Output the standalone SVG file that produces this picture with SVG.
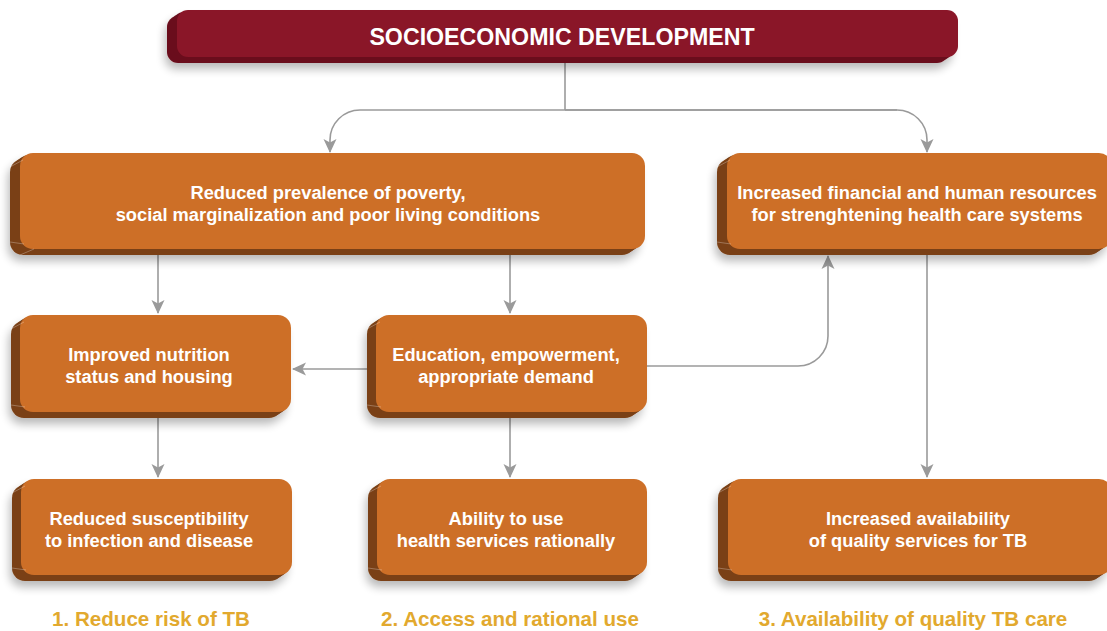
<svg xmlns="http://www.w3.org/2000/svg" width="1107" height="631" viewBox="0 0 1107 631">
<style>
.front{fill:#CD6F27}
.depth{fill:#7A4016}
.tfront{fill:#8A1628}
.tdepth{fill:#6A0F1D}
.lbl{font-family:"Liberation Sans",Arial,sans-serif;font-weight:bold;fill:#FFFFFF;font-size:18.3px;text-anchor:middle}
.title{font-family:"Liberation Sans",Arial,sans-serif;font-weight:bold;fill:#FFFFFF;font-size:23.2px;text-anchor:middle}
.cap{font-family:"Liberation Sans",Arial,sans-serif;font-weight:bold;fill:#E2A92E;font-size:20.6px;text-anchor:middle}
.conn{fill:none;stroke:#9A9A9A;stroke-width:1.6}
.bevel{fill:none;stroke:#FFFFFF;stroke-opacity:0.35;stroke-width:0.8}
</style>
<defs>
<filter id="sh" x="-10%" y="-30%" width="120%" height="170%">
<feGaussianBlur in="SourceAlpha" stdDeviation="5"/>
<feOffset dx="-2" dy="6" result="b"/>
<feComponentTransfer><feFuncA type="linear" slope="0.28"/></feComponentTransfer>
<feMerge><feMergeNode/><feMergeNode in="SourceGraphic"/></feMerge>
</filter>
<marker id="ah" viewBox="0 0 14 14" refX="13" refY="7" markerWidth="14" markerHeight="14" markerUnits="userSpaceOnUse" orient="auto">
<path d="M0,0.5 L14,7 L0,13.5 L3.5,7 z" fill="#9A9A9A"/>
</marker>
</defs>
<rect width="1107" height="631" fill="#FFFFFF"/>

<g id="connectors">
<path class="conn" d="M565,63 V110"/>
<path class="conn" d="M897,110 H360 A30,30 0 0 0 330,140 V152" marker-end="url(#ah)"/>
<path class="conn" d="M565,110 H897 A30,30 0 0 1 927,140 V152" marker-end="url(#ah)"/>
<path class="conn" d="M158,255 V313" marker-end="url(#ah)"/>
<path class="conn" d="M510,255 V313" marker-end="url(#ah)"/>
<path class="conn" d="M158,418 V477" marker-end="url(#ah)"/>
<path class="conn" d="M510,418 V477" marker-end="url(#ah)"/>
<path class="conn" d="M927,255 V477" marker-end="url(#ah)"/>
<path class="conn" d="M367,369 H293" marker-end="url(#ah)"/>
<path class="conn" d="M647,366 H798 A30,30 0 0 0 828,336 V256" marker-end="url(#ah)"/>
</g>

<g id="node-title">
<g filter="url(#sh)">
<rect class="tdepth" x="167" y="16" width="781" height="47" rx="11"/>
<rect class="tdepth" x="170" y="14" width="781" height="47" rx="11"/>
<rect class="tdepth" x="173" y="12" width="781" height="47" rx="11"/>
</g>
<rect class="tfront" x="177" y="10" width="781" height="47" rx="11"/>
<text class="title" x="562" y="45">SOCIOECONOMIC DEVELOPMENT</text>
</g>

<g id="node-poverty">
<g filter="url(#sh)">
<rect class="depth" x="10" y="159" width="625" height="96" rx="13"/>
<rect class="depth" x="13" y="157" width="625" height="96" rx="13"/>
<rect class="depth" x="16" y="155" width="625" height="96" rx="13"/>
</g>
<rect class="front" x="20" y="153" width="625" height="96" rx="13"/>
<path class="bevel" d="M10,167 L23,160 M10,242 L24,244 M20,255 L34,249"/>
<text class="lbl" x="328" y="199">Reduced prevalence of poverty,</text>
<text class="lbl" x="328" y="221">social marginalization and poor living conditions</text>
</g>

<g id="node-resources">
<g filter="url(#sh)">
<rect class="depth" x="717" y="159" width="385" height="96" rx="13"/>
<rect class="depth" x="720" y="157" width="385" height="96" rx="13"/>
<rect class="depth" x="723" y="155" width="385" height="96" rx="13"/>
</g>
<rect class="front" x="727" y="153" width="385" height="96" rx="13"/>
<path class="bevel" d="M717,167 L730,160 M717,242 L731,244"/>
<text class="lbl" x="917" y="199">Increased financial and human resources</text>
<text class="lbl" x="917" y="221">for strenghtening health care systems</text>
</g>

<g id="node-nutrition">
<g filter="url(#sh)">
<rect class="depth" x="11" y="321" width="271" height="97" rx="13"/>
<rect class="depth" x="14" y="319" width="271" height="97" rx="13"/>
<rect class="depth" x="17" y="317" width="271" height="97" rx="13"/>
</g>
<rect class="front" x="20" y="315" width="271" height="97" rx="13"/>
<path class="bevel" d="M11,329 L24,322 M11,405 L25,407"/>
<text class="lbl" x="149" y="361">Improved nutrition</text>
<text class="lbl" x="149" y="383">status and housing</text>
</g>

<g id="node-education">
<g filter="url(#sh)">
<rect class="depth" x="367" y="321" width="271" height="97" rx="13"/>
<rect class="depth" x="370" y="319" width="271" height="97" rx="13"/>
<rect class="depth" x="373" y="317" width="271" height="97" rx="13"/>
</g>
<rect class="front" x="376" y="315" width="271" height="97" rx="13"/>
<path class="bevel" d="M367,329 L380,322 M367,405 L381,407"/>
<text class="lbl" x="506" y="361">Education, empowerment,</text>
<text class="lbl" x="506" y="383">appropriate demand</text>
</g>

<g id="node-susceptibility">
<g filter="url(#sh)">
<rect class="depth" x="12" y="485" width="271" height="96" rx="13"/>
<rect class="depth" x="15" y="483" width="271" height="96" rx="13"/>
<rect class="depth" x="18" y="481" width="271" height="96" rx="13"/>
</g>
<rect class="front" x="21" y="479" width="271" height="96" rx="13"/>
<path class="bevel" d="M12,493 L25,486 M12,568 L26,570"/>
<text class="lbl" x="149" y="525">Reduced susceptibility</text>
<text class="lbl" x="149" y="547">to infection and disease</text>
</g>

<g id="node-ability">
<g filter="url(#sh)">
<rect class="depth" x="368" y="485" width="270" height="96" rx="13"/>
<rect class="depth" x="371" y="483" width="270" height="96" rx="13"/>
<rect class="depth" x="374" y="481" width="270" height="96" rx="13"/>
</g>
<rect class="front" x="377" y="479" width="270" height="96" rx="13"/>
<path class="bevel" d="M368,493 L381,486 M368,568 L382,570"/>
<text class="lbl" x="506" y="525">Ability to use</text>
<text class="lbl" x="506" y="547">health services rationally</text>
</g>

<g id="node-availability">
<g filter="url(#sh)">
<rect class="depth" x="718" y="485" width="384" height="96" rx="13"/>
<rect class="depth" x="721" y="483" width="384" height="96" rx="13"/>
<rect class="depth" x="724" y="481" width="384" height="96" rx="13"/>
</g>
<rect class="front" x="728" y="479" width="384" height="96" rx="13"/>
<path class="bevel" d="M718,493 L731,486 M718,568 L732,570"/>
<text class="lbl" x="918" y="525">Increased availability</text>
<text class="lbl" x="918" y="547">of quality services for TB</text>
</g>

<g id="captions">
<text class="cap" x="151" y="626">1. Reduce risk of TB</text>
<text class="cap" x="510" y="626">2. Access and rational use</text>
<text class="cap" x="913" y="626">3. Availability of quality TB care</text>
</g>
</svg>
